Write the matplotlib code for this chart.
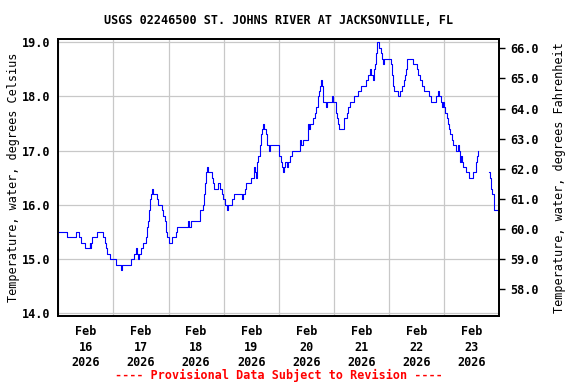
import numpy as np
import pandas as pd
import matplotlib
matplotlib.use("Agg")
import matplotlib.pyplot as plt
import matplotlib.dates as mdates
from matplotlib.ticker import FormatStrFormatter

# ---------------- data (hours after Feb 16 2026 00:00, deg C) ----------------
hours_a = [0.0, 3.9, 7.8, 8.9, 10.0, 11.5, 13.7, 13.9, 14.4, 14.8, 16.9, 19.5,
           20.2, 20.9, 21.3, 22.7, 25.3, 27.5, 27.9, 31.5, 33.0, 33.7, 34.4,
           34.7, 35.2, 36.2, 36.9, 38.1, 38.5, 39.1, 39.5, 39.9, 40.4, 40.9,
           41.4, 42.9, 43.6, 45.3, 45.8, 46.3, 46.9, 47.5, 48.0, 49.7, 51.3,
           51.8, 56.3, 56.9, 57.7, 61.7, 62.9, 63.5, 63.9, 64.2, 64.6, 65.0,
           66.8, 67.2, 67.8, 69.4, 70.4, 71.2, 71.9, 72.6, 73.4, 74.0, 75.5,
           76.7, 80.1, 80.6, 81.3, 81.8, 83.9, 85.2, 85.7, 86.1, 86.4, 87.1,
           87.6, 88.2, 88.6, 89.0, 89.6, 90.5, 91.0, 91.8, 92.2, 95.8, 96.3,
           96.9, 97.3, 97.7, 98.3, 98.7, 99.5, 100.2, 100.9, 101.7, 105.3,
           105.7, 106.7, 108.6, 109.0, 109.6, 110.9, 111.8, 112.2, 113.0,
           113.6, 114.0, 114.4, 114.9, 115.4, 116.5, 117.0, 119.3, 119.8,
           120.8, 121.3, 121.7, 122.0, 124.6, 125.6, 126.3, 127.1, 128.9,
           130.5, 131.8, 133.9, 134.7, 135.5, 136.0, 136.9, 137.5, 138.0,
           138.4, 138.9, 139.7, 140.5, 141.1, 141.5, 142.0, 144.9, 145.2,
           145.7, 146.2, 147.7, 148.8, 149.6, 150.3, 151.0, 151.3, 151.8,
           154.6, 156.1, 156.8, 157.5, 158.5, 159.3, 161.5, 162.2, 164.5,
           165.1, 165.8, 166.6, 166.9, 167.4, 168.0, 168.4, 169.2, 169.6,
           170.2, 170.6, 171.4, 171.8, 173.1, 174.0, 174.5, 175.0, 175.4,
           175.8, 176.4, 177.5, 179.0, 180.4, 181.8, 182.3, 182.7]
temp_a = [15.5, 15.4, 15.5, 15.4, 15.3, 15.2, 15.3, 15.2, 15.3, 15.4, 15.5, 15.4,
          15.3, 15.2, 15.1, 15.0, 14.9, 14.8, 14.9, 15.0, 15.1, 15.2, 15.1,
          15.0, 15.1, 15.2, 15.3, 15.4, 15.6, 15.7, 15.9, 16.1, 16.2, 16.3,
          16.2, 16.1, 16.0, 15.9, 15.8, 15.7, 15.5, 15.4, 15.3, 15.4, 15.5,
          15.6, 15.7, 15.6, 15.7, 15.9, 16.0, 16.2, 16.4, 16.6, 16.7, 16.6,
          16.5, 16.4, 16.3, 16.4, 16.3, 16.2, 16.1, 16.0, 15.9, 16.0, 16.1,
          16.2, 16.1, 16.2, 16.3, 16.4, 16.5, 16.7, 16.6, 16.5, 16.8, 16.9,
          17.1, 17.3, 17.4, 17.5, 17.4, 17.3, 17.1, 17.0, 17.1, 17.1, 16.9,
          16.8, 16.7, 16.6, 16.7, 16.8, 16.7, 16.8, 16.9, 17.0, 17.2,
          17.1, 17.2, 17.5, 17.4, 17.5, 17.6, 17.7, 17.8, 18.0,
          18.1, 18.2, 18.3, 18.2, 17.9, 17.8, 17.9, 18.0, 17.9,
          17.7, 17.6, 17.5, 17.4, 17.6, 17.7, 17.8, 17.9, 18.0,
          18.1, 18.2, 18.3, 18.4, 18.5, 18.4, 18.3, 18.5, 18.6,
          18.8, 19.0, 18.9, 18.8, 18.7, 18.6, 18.7, 18.6, 18.4,
          18.2, 18.1, 18.0, 18.1, 18.2, 18.3, 18.4, 18.5, 18.7,
          18.6, 18.5, 18.4, 18.3, 18.2, 18.1, 18.0, 17.9, 18.0,
          18.1, 18.0, 17.9, 17.8, 17.9, 17.8, 17.7, 17.6, 17.5,
          17.4, 17.3, 17.2, 17.1, 17.0, 17.1, 17.0, 16.8, 16.9,
          16.8, 16.7, 16.6, 16.5, 16.6, 16.8, 16.9, 17.0]

# after the data gap
hours_b = [187.3, 188.0, 188.5, 189.0, 189.5, 189.9, 191.0]
temp_b = [16.6, 16.5, 16.3, 16.2, 16.0, 15.9, 15.9]

start = pd.Timestamp("2026-02-16 00:00")
end = pd.Timestamp("2026-02-24 00:00")
times_a = start + pd.to_timedelta(hours_a, unit="h")
times_b = start + pd.to_timedelta(hours_b, unit="h")

celsius_ticks = [14.0, 15.0, 16.0, 17.0, 18.0, 19.0]
fahr_ticks = [58.0, 59.0, 60.0, 61.0, 62.0, 63.0, 64.0, 65.0, 66.0]

# ---------------- figure ----------------
plt.rcParams["font.family"] = "DejaVu Sans Mono"
plt.rcParams["font.weight"] = "bold"
fs = 8.5

fig = plt.figure(figsize=(5.76, 3.84), dpi=100)
ax = fig.add_axes([58.3 / 576, 1 - 315.7 / 384, (499.3 - 58.3) / 576, (315.7 - 39.3) / 384])

ax.plot(times_a, temp_a, color="#0000ff", lw=0.8, drawstyle="steps-post")
ax.plot(times_b, temp_b, color="#0000ff", lw=0.8, drawstyle="steps-post")

ax.set_xlim(start, end)
ylo, yhi = 13.956, 19.055
ax.set_ylim(ylo, yhi)
ax.set_yticks(celsius_ticks)
ax.yaxis.set_major_formatter(FormatStrFormatter("%.1f"))

ax.xaxis.set_major_locator(mdates.HourLocator(byhour=[12]))
ax.xaxis.set_minor_locator(mdates.DayLocator())
ax.xaxis.set_major_formatter(mdates.DateFormatter("%b\n%d\n%Y"))

ax.grid(which="minor", axis="x", color="#c8c8c8", lw=0.9)
ax.grid(which="major", axis="y", color="#c8c8c8", lw=0.9)
ax.set_axisbelow(True)

ax.tick_params(axis="x", which="both", length=0, pad=7, labelsize=fs)
ax.tick_params(axis="y", length=0, pad=6, labelsize=fs)
for lab in ax.get_xticklabels():
    lab.set_linespacing(1.25)

for s in ax.spines.values():
    s.set_linewidth(1.3)

ax.set_ylabel("Temperature, water, degrees Celsius", fontsize=fs, labelpad=1)

ax2 = ax.twinx()
ax2.set_ylim(ylo * 1.8 + 32, yhi * 1.8 + 32)
ax2.set_yticks(fahr_ticks)
ax2.yaxis.set_major_formatter(FormatStrFormatter("%.1f"))
ax2.tick_params(axis="y", length=4, width=1.0, pad=4, labelsize=fs)
ax2.set_ylabel("Temperature, water, degrees Fahrenheit", fontsize=fs, labelpad=10)
for s in ax2.spines.values():
    s.set_linewidth(1.3)

fig.text(278.8 / 576, 1 - 20 / 384, "USGS 02246500 ST. JOHNS RIVER AT JACKSONVILLE, FL",
         ha="center", va="center", fontsize=fs)
fig.text(278.8 / 576, 1 - 375 / 384, "---- Provisional Data Subject to Revision ----",
         ha="center", va="center", fontsize=fs, color="red")

fig.savefig("out.png", dpi=100)
